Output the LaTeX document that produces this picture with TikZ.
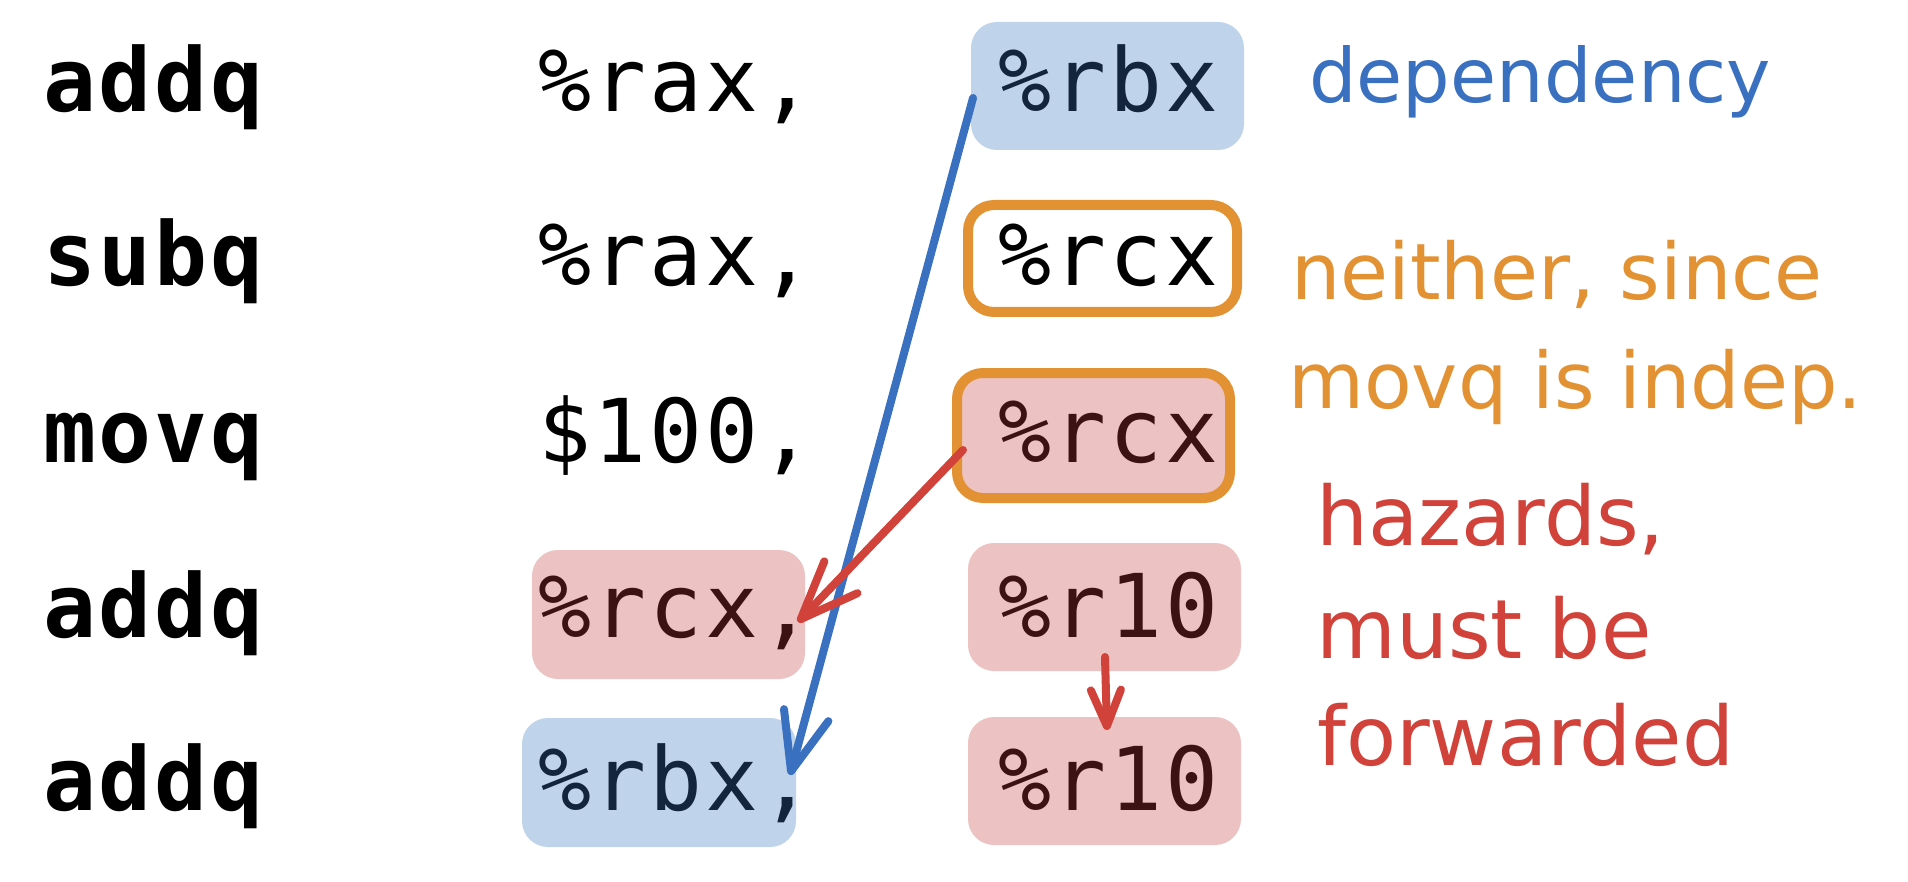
\documentclass[tikz,border=0pt]{standalone}
\usepackage{fontspec}
\usetikzlibrary{arrows.meta,calc}
\newfontfamily\opfont{DejaVu Sans Mono}[LetterSpace=3]
\newfontfamily\handfont{DejaVu Sans}
\definecolor{hlblue}{HTML}{BFD3EA}
\definecolor{hlpink}{HTML}{ECC3C2}
\definecolor{hlorange}{HTML}{E39233}
\definecolor{penblue}{HTML}{3A70C0}
\definecolor{penred}{HTML}{D0423A}
\definecolor{inkblue}{HTML}{13243D}
\definecolor{inkred}{HTML}{3D1212}
\tikzset{
  hl/.style={rectangle, rounded corners=26pt, inner sep=0pt, outer sep=0pt},
  bluebox/.style={hl, fill=hlblue},
  pinkbox/.style={hl, fill=hlpink},
  orangebox/.style={hl, draw=hlorange, line width=10pt},
  code/.style={anchor=base west, inner sep=0pt, font=\opfont\fontsize{88}{88}\selectfont},
  opcode/.style={code, font=\opfont\bfseries\fontsize{88}{88}\selectfont},
  pen/.style={line width=8pt, line cap=round, line join=round},
  bigtip/.style={-{Straight Barb[length=58pt,width=46pt,round]}},
  smalltip/.style={-{Straight Barb[length=36pt,width=30pt,round]}},
  note/.style={anchor=base west, inner sep=0pt}
}
\begin{document}
\begin{tikzpicture}[x=1pt,y=-1pt]
\fill[white] (0,0) rectangle (1908,882);
\useasboundingbox (0,0) rectangle (1908,882);

% highlight boxes
\node[bluebox, minimum width=273pt, minimum height=128pt] (B1) at (1107.5,86) {};
\node[orangebox, minimum width=269pt, minimum height=107pt] (B2) at (1102.5,258.5) {};
\node[orangebox, fill=hlpink, minimum width=273pt, minimum height=125pt] (B3) at (1093.5,435.5) {};
\node[pinkbox, minimum width=273pt, minimum height=129pt] (B4) at (668.5,614.5) {};
\node[pinkbox, minimum width=273pt, minimum height=128pt] (B5) at (1104.5,607) {};
\node[bluebox, minimum width=274pt, minimum height=129pt] (B6) at (659,782.5) {};
\node[pinkbox, minimum width=273pt, minimum height=128pt] (B7) at (1104.5,781) {};

% code
\node[opcode] (o1) at (43,112) {addq};
\node[code] (a1) at (538,112) {\%rax,};
\node[code, text=inkblue] (b1) at (998,112) {\%rbx};

\node[opcode] (o2) at (43,286) {subq};
\node[code] (a2) at (538,286) {\%rax,};
\node[code] (b2) at (998,286) {\%rcx};

\node[opcode] (o3) at (43,462) {movq};
\node[code] (a3) at (538,462) {\$100,};
\node[code, text=inkred] (b3) at (998,462) {\%rcx};

\node[opcode] (o4) at (43,637) {addq};
\node[code, text=inkred] (a4) at (538,637) {\%rcx,};
\node[code, text=inkred] (b4) at (998,637) {\%r10};

\node[opcode] (o5) at (43,810) {addq};
\node[code, text=inkblue] (a5) at (538,810) {\%rbx,};
\node[code, text=inkred] (b5) at (998,810) {\%r10};

% notes
\node[note, text=penblue, font=\handfont\fontsize{75}{75}\selectfont] (dep) at (1309,103) {dependency};
\node[note, text=hlorange, font=\handfont\fontsize{78}{78}\selectfont] (nei1) at (1291,300) {neither, since};
\node[note, text=hlorange, font=\handfont\fontsize{78}{78}\selectfont] (nei2) at (1288,408) {movq is indep.};
\node[note, text=penred, font=\handfont\fontsize{82}{82}\selectfont] (haz1) at (1316,545) {hazards,};
\node[note, text=penred, font=\handfont\fontsize{82}{82}\selectfont] (haz2) at (1316,658) {must be};
\node[note, text=penred, font=\handfont\fontsize{82}{82}\selectfont] (haz3) at (1317,765) {forwarded};

% arrows
\draw[pen, bigtip, draw=penblue] ($(B1.west)+(2,12)$) -- ($(B6.east)+(-6,-7.5)$);
\draw[pen, bigtip, draw=penred] ($(B3.west)+(6,14.5)$) -- ($(B4.east)+(-7,7.5)$);
\draw[pen, smalltip, draw=penred] ($(B5.south)+(0.5,-14)$) -- ($(B7.north)+(2.5,13)$);
\end{tikzpicture}
\end{document}
